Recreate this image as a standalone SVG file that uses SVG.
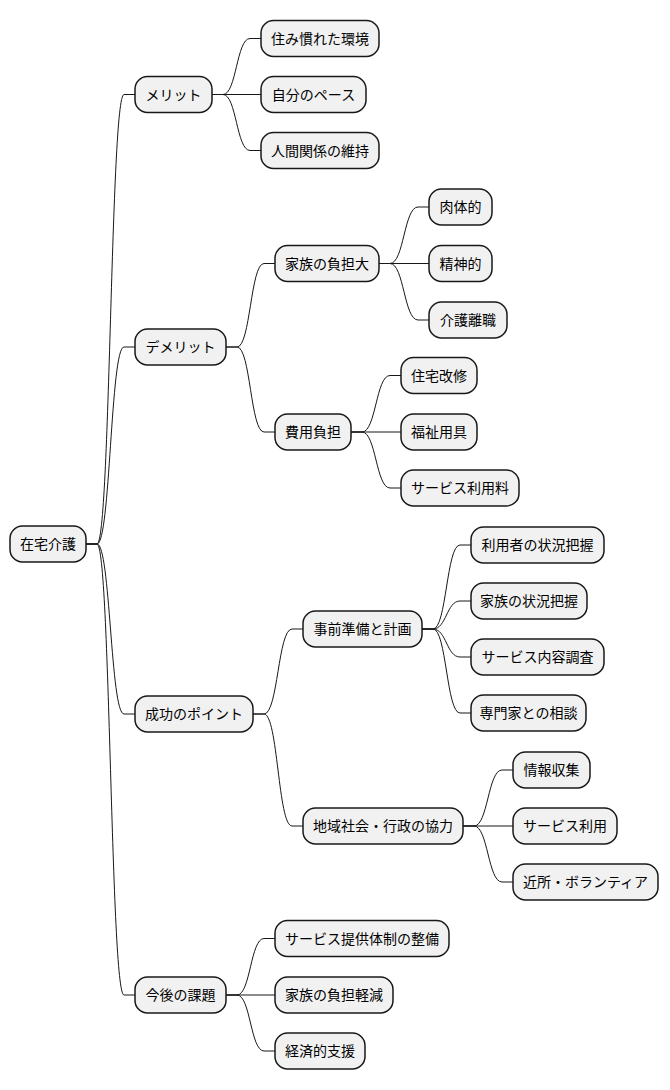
<svg xmlns="http://www.w3.org/2000/svg" width="670" height="1090" viewBox="0 0 670 1090">
<style>
.n rect{fill:#F1F1F1;stroke:#181818;stroke-width:1.5}
.n text{font-family:"Noto Sans CJK JP","Noto Sans",sans-serif;font-size:14px;fill:#000;text-anchor:middle}
#edges path{fill:none;stroke:#181818;stroke-width:1}
</style>
<rect width="670" height="1090" fill="#FFFFFF"/>
<g id="edges">
<path d="M86,544 H97 C110.5,544 110.5,94.5 124,94.5 H135"/>
<path d="M86,544 H97 C110.5,544 110.5,347 124,347 H135"/>
<path d="M86,544 H97 C110.5,544 110.5,714 124,714 H135"/>
<path d="M86,544 H97 C110.5,544 110.5,995 124,995 H135"/>
<path d="M212,94.5 H223 C236.5,94.5 236.5,38.5 250,38.5 H261"/>
<path d="M212,94.5 H261"/>
<path d="M212,94.5 H223 C236.5,94.5 236.5,150.5 250,150.5 H261"/>
<path d="M226,347 H237 C250.5,347 250.5,263.5 264,263.5 H275"/>
<path d="M226,347 H237 C250.5,347 250.5,432 264,432 H275"/>
<path d="M379,263.5 H390 C404,263.5 404,207 418,207 H429"/>
<path d="M379,263.5 H429"/>
<path d="M379,263.5 H390 C404,263.5 404,320 418,320 H429"/>
<path d="M351,432 H362 C376,432 376,375.5 390,375.5 H401"/>
<path d="M351,432 H401"/>
<path d="M351,432 H362 C376,432 376,488 390,488 H401"/>
<path d="M253,714 H264 C278,714 278,629 292,629 H303"/>
<path d="M253,714 H264 C278,714 278,826 292,826 H303"/>
<path d="M422,629 H433 C446.5,629 446.5,545 460,545 H471"/>
<path d="M422,629 H433 C446.5,629 446.5,601 460,601 H471"/>
<path d="M422,629 H433 C446.5,629 446.5,657 460,657 H471"/>
<path d="M422,629 H433 C446.5,629 446.5,713 460,713 H471"/>
<path d="M463,826 H474 C488,826 488,770 502,770 H513"/>
<path d="M463,826 H513"/>
<path d="M463,826 H474 C488,826 488,882 502,882 H513"/>
<path d="M226,995 H237 C250.5,995 250.5,938.5 264,938.5 H275"/>
<path d="M226,995 H275"/>
<path d="M226,995 H237 C250.5,995 250.5,1051 264,1051 H275"/>
</g>

<g id="root" class="n"><rect x="10" y="526" width="76" height="36" rx="12.5"/><text x="48" y="549">在宅介護</text></g>

<g id="merit" class="n"><rect x="135" y="76.5" width="77" height="36" rx="12.5"/><text x="173.5" y="99.5">メリット</text></g>
<g id="merit1" class="n"><rect x="261" y="20.5" width="118" height="36" rx="12.5"/><text x="320" y="43.5">住み慣れた環境</text></g>
<g id="merit2" class="n"><rect x="261" y="76.5" width="105" height="36" rx="12.5"/><text x="313.5" y="99.5">自分のペース</text></g>
<g id="merit3" class="n"><rect x="261" y="132.5" width="118" height="36" rx="12.5"/><text x="320" y="155.5">人間関係の維持</text></g>

<g id="demerit" class="n"><rect x="135" y="329" width="91" height="36" rx="12.5"/><text x="180.5" y="352">デメリット</text></g>
<g id="family" class="n"><rect x="275" y="245.5" width="104" height="36" rx="12.5"/><text x="327" y="268.5">家族の負担大</text></g>
<g id="family1" class="n"><rect x="429" y="189" width="63" height="36" rx="12.5"/><text x="460.5" y="212">肉体的</text></g>
<g id="family2" class="n"><rect x="429" y="245.5" width="63" height="36" rx="12.5"/><text x="460.5" y="268.5">精神的</text></g>
<g id="family3" class="n"><rect x="429" y="302" width="78" height="36" rx="12.5"/><text x="468" y="325">介護離職</text></g>
<g id="cost" class="n"><rect x="275" y="414" width="76" height="36" rx="12.5"/><text x="313" y="437">費用負担</text></g>
<g id="cost1" class="n"><rect x="401" y="357.5" width="76" height="36" rx="12.5"/><text x="439" y="380.5">住宅改修</text></g>
<g id="cost2" class="n"><rect x="401" y="414" width="76" height="36" rx="12.5"/><text x="439" y="437">福祉用具</text></g>
<g id="cost3" class="n"><rect x="401" y="470" width="118" height="36" rx="12.5"/><text x="460" y="493">サービス利用料</text></g>

<g id="success" class="n"><rect x="135" y="696" width="118" height="36" rx="12.5"/><text x="194" y="719">成功のポイント</text></g>
<g id="prep" class="n"><rect x="303" y="611" width="119" height="36" rx="12.5"/><text x="362.5" y="634">事前準備と計画</text></g>
<g id="prep1" class="n"><rect x="471" y="527" width="133" height="36" rx="12.5"/><text x="537.5" y="550">利用者の状況把握</text></g>
<g id="prep2" class="n"><rect x="471" y="583" width="116" height="36" rx="12.5"/><text x="529" y="606">家族の状況把握</text></g>
<g id="prep3" class="n"><rect x="471" y="639" width="133" height="36" rx="12.5"/><text x="537.5" y="662">サービス内容調査</text></g>
<g id="prep4" class="n"><rect x="471" y="695" width="115" height="36" rx="12.5"/><text x="528.5" y="718">専門家との相談</text></g>
<g id="community" class="n"><rect x="303" y="808" width="160" height="36" rx="12.5"/><text x="383" y="831">地域社会・行政の協力</text></g>
<g id="comm1" class="n"><rect x="513" y="752" width="77" height="36" rx="12.5"/><text x="551.5" y="775">情報収集</text></g>
<g id="comm2" class="n"><rect x="513" y="808" width="104" height="36" rx="12.5"/><text x="565" y="831">サービス利用</text></g>
<g id="comm3" class="n"><rect x="513" y="864" width="145" height="36" rx="12.5"/><text x="585.5" y="887">近所・ボランティア</text></g>

<g id="future" class="n"><rect x="135" y="977" width="91" height="36" rx="12.5"/><text x="180.5" y="1000">今後の課題</text></g>
<g id="future1" class="n"><rect x="275" y="920.5" width="174" height="36" rx="12.5"/><text x="362" y="943.5">サービス提供体制の整備</text></g>
<g id="future2" class="n"><rect x="275" y="977" width="118" height="36" rx="12.5"/><text x="334" y="1000">家族の負担軽減</text></g>
<g id="future3" class="n"><rect x="275" y="1033" width="90" height="36" rx="12.5"/><text x="320" y="1056">経済的支援</text></g>
</svg>
